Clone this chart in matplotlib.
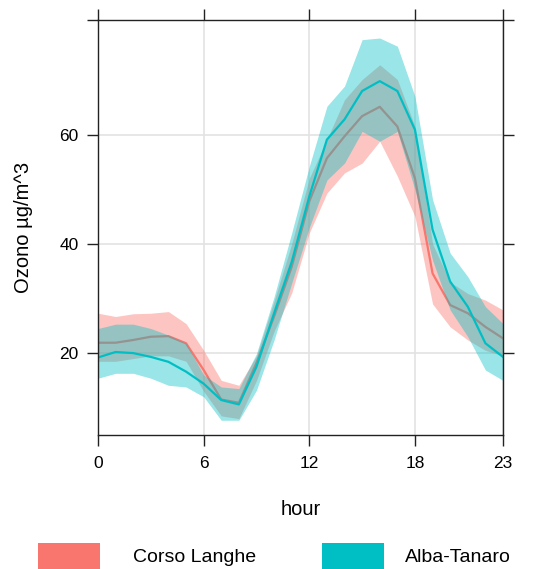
import numpy as np
import matplotlib
matplotlib.use("Agg")
import matplotlib.pyplot as plt
from matplotlib.patches import Rectangle

plt.rcParams['font.family'] = ['Liberation Sans', 'DejaVu Sans']

hours = list(range(24))

# Corso Langhe: mean and confidence band
corso_mean = [21.9, 21.9, 22.4, 23.0, 23.1, 21.8, 16.9, 11.5, 10.9, 18.2, 26.7, 35.8,
              47.8, 55.7, 59.7, 63.4, 65.1, 61.5, 52.0, 34.6, 28.8, 27.3, 24.8, 22.7]
corso_hi = [27.3, 26.7, 27.2, 27.3, 27.6, 25.4, 20.5, 15.0, 14.1, 19.5, 29.5, 40.0,
            52.0, 59.1, 66.4, 70.1, 72.8, 70.1, 61.5, 40.0, 33.0, 30.9, 29.7, 27.9]
corso_lo = [18.5, 18.5, 19.0, 19.5, 19.5, 18.5, 13.0, 8.5, 8.0, 15.0, 24.0, 31.0,
            42.0, 49.3, 53.0, 54.8, 58.8, 52.4, 45.0, 29.0, 24.8, 22.4, 20.5, 19.5]

# Alba-Tanaro: mean and confidence band
alba_mean = [19.2, 20.2, 20.0, 19.3, 18.4, 16.6, 14.4, 11.4, 10.6, 17.5, 27.3, 36.7,
             48.7, 59.1, 62.8, 68.0, 69.8, 68.0, 60.9, 42.6, 33.1, 28.5, 21.8, 19.3]
alba_hi = [24.5, 25.3, 25.3, 24.5, 23.3, 21.8, 16.0, 13.8, 13.5, 19.9, 30.3, 42.0,
           54.2, 65.2, 68.9, 77.4, 77.7, 76.2, 67.0, 48.1, 38.3, 34.0, 28.5, 25.4]
alba_lo = [15.4, 16.3, 16.3, 15.4, 14.1, 13.8, 12.0, 7.7, 7.7, 13.2, 22.4, 32.8,
           43.0, 51.7, 54.8, 60.6, 58.8, 60.6, 49.9, 37.0, 27.9, 23.0, 16.9, 15.0]

sites = ['Corso Langhe', 'Alba-Tanaro']
colors = ['#F8766D', '#00BFC4']
x_ticks = [0, 6, 12, 18, 23]
y_ticks = [20, 40, 60, 81]
y_labels = ['20', '40', '60', '']

fig = plt.figure(figsize=(5.55, 5.69), dpi=100)
ax = fig.add_axes([98/555, 1-435/569, 405/555, 415/569])

# draw order: red band, red line, cyan band, cyan line
ax.fill_between(hours, corso_lo, corso_hi, color=colors[0], alpha=0.42, lw=0, zorder=3)
ax.plot(hours, corso_mean, color=colors[0], lw=1.6, zorder=4)
ax.fill_between(hours, alba_lo, alba_hi, color=colors[1], alpha=0.40, lw=0, zorder=5)
ax.plot(hours, alba_mean, color=colors[1], lw=1.6, zorder=6)

ax.set_xlim(0, 23)
ax.set_ylim(5.0, 81.0)
ax.set_xticks(x_ticks)
ax.set_yticks(y_ticks)
ax.set_yticklabels(y_labels)
ax.grid(True, color='#e3e3e3', lw=1.2, zorder=0)
ax.tick_params(direction='out', length=7.8, width=1, top=True, right=True,
               labelsize=12.5, color='#222222')
ax.tick_params(axis='x', pad=7)
ax.tick_params(axis='y', pad=6)
for s in ax.spines.values():
    s.set_color('#222222')
    s.set_linewidth(1)
    s.set_zorder(7)

ax.set_xlabel('hour', fontsize=14.5, labelpad=21)
ax.set_ylabel('Ozono µg/m^3', fontsize=14.5, labelpad=19)

# legend row at bottom
leg = [(38, 133), (322, 405)]
for (sx, tx), name, c in zip(leg, sites, colors):
    fig.add_artist(Rectangle((sx/555, 1-580/569), 62/555, 37/569,
                             transform=fig.transFigure, color=c, lw=0))
    fig.text(tx/555, 1-558/569, name, fontsize=14, va='center', ha='left')

fig.savefig('out.png', dpi=100)
